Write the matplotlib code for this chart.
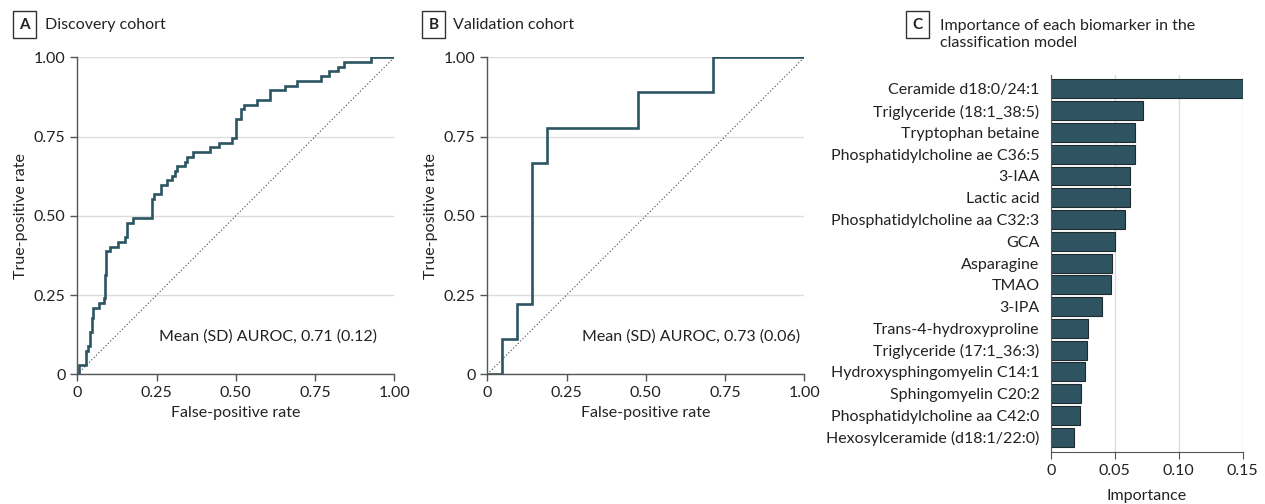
import numpy as np
import matplotlib
matplotlib.use('Agg')
import matplotlib.pyplot as plt

plt.rcParams['font.family'] = ['Lato', 'DejaVu Sans']

# ROC staircase corners (fpr where the rise happens, tpr after rise)
fpr_discovery = [0, 0.005, 0.029, 0.035, 0.040, 0.045, 0.050, 0.069, 0.083, 0.086,
                 0.089, 0.103, 0.127, 0.150, 0.156, 0.177, 0.237, 0.241, 0.264, 0.282,
                 0.298, 0.308, 0.315, 0.340, 0.347, 0.366, 0.420, 0.447, 0.489, 0.500,
                 0.515, 0.527, 0.568, 0.608, 0.655, 0.694, 0.769, 0.795, 0.823, 0.842,
                 0.925, 1.0]
tpr_discovery = [0, 0.03, 0.075, 0.089, 0.135, 0.179, 0.21, 0.224, 0.24, 0.313,
                 0.389, 0.403, 0.418, 0.434, 0.478, 0.492, 0.552, 0.568, 0.597, 0.613,
                 0.627, 0.64, 0.657, 0.671, 0.687, 0.70, 0.717, 0.731, 0.747, 0.805,
                 0.836, 0.85, 0.865, 0.896, 0.91, 0.925, 0.94, 0.956, 0.97, 0.985,
                 1.0, 1.0]

fpr_validation = [0, 0.047, 0.095, 0.142, 0.189, 0.476, 0.713, 1.0]
tpr_validation = [0, 0.111, 0.222, 0.667, 0.778, 0.889, 1.0, 1.0]

auroc_discovery = 'Mean (SD) AUROC, 0.71 (0.12)'
auroc_validation = 'Mean (SD) AUROC, 0.73 (0.06)'

biomarkers = ['Ceramide d18:0/24:1', 'Triglyceride (18:1_38:5)', 'Tryptophan betaine',
              'Phosphatidylcholine ae C36:5', '3-IAA', 'Lactic acid',
              'Phosphatidylcholine aa C32:3', 'GCA', 'Asparagine', 'TMAO', '3-IPA',
              'Trans-4-hydroxyproline', 'Triglyceride (17:1_36:3)',
              'Hydroxysphingomyelin C14:1', 'Sphingomyelin C20:2',
              'Phosphatidylcholine aa C42:0', 'Hexosylceramide (d18:1/22:0)']
importance = [0.150, 0.0719, 0.0659, 0.0656, 0.0622, 0.0617, 0.0578, 0.0503, 0.0482,
              0.0474, 0.0398, 0.0289, 0.0284, 0.0266, 0.0237, 0.0227, 0.0185]

line_col = '#2b5563'
bar_col = '#2f5461'
spine_col = '#555555'
grid_col = '#dcdcdc'
text_col = '#222222'
fs = 11.5

fig = plt.figure(figsize=(12.65, 5.04), dpi=100)


def roc_panel(rect, fpr, tpr, note, note_x):
    ax = fig.add_axes(rect)
    ax.plot([0, 1], [0, 1], ls=(0, (1, 2)), color='#444444', lw=0.8)
    ax.plot(fpr, tpr, drawstyle='steps-post', color=line_col, lw=1.9, solid_joinstyle='miter')
    ax.set_xlim(0, 1)
    ax.set_ylim(0, 1)
    ticks = [0, 0.25, 0.5, 0.75, 1.0]
    labels = ['0', '0.25', '0.50', '0.75', '1.00']
    ax.set_xticks(ticks, labels)
    ax.set_yticks(ticks, labels)
    ax.yaxis.grid(True, color=grid_col, lw=1)
    ax.set_axisbelow(True)
    for s in ['top', 'right']:
        ax.spines[s].set_visible(False)
    for s in ['left', 'bottom']:
        ax.spines[s].set_color(spine_col)
        ax.spines[s].set_linewidth(1)
    ax.tick_params(colors=spine_col, labelcolor=text_col, labelsize=fs, length=5, width=1)
    ax.set_xlabel('False-positive rate', fontsize=fs, color=text_col, labelpad=4)
    ax.set_ylabel('True-positive rate', fontsize=fs, color=text_col, labelpad=4)
    ax.text(note_x, 0.12, note, ha='right', va='center', fontsize=fs, color=text_col)
    return ax


roc_panel([0.0611, 0.2573, 0.2506, 0.6290], fpr_discovery, tpr_discovery,
          auroc_discovery, 0.944)
roc_panel([0.3852, 0.2573, 0.2506, 0.6290], fpr_validation, tpr_validation,
          auroc_validation, 0.986)

# panel C
axc = fig.add_axes([0.8306, 0.1032, 0.1518, 0.7480])
y = np.arange(len(biomarkers))
axc.barh(y, importance, height=0.87, color=bar_col, edgecolor='#1e2a30', linewidth=0.8)
axc.set_ylim(len(biomarkers) - 1 + 0.68, -0.64)
axc.set_xlim(0, 0.15)
axc.set_yticks(y, biomarkers)
axc.set_xticks([0, 0.05, 0.10, 0.15], ['0', '0.05', '0.10', '0.15'])
axc.xaxis.grid(True, color=grid_col, lw=1)
axc.set_axisbelow(True)
for s in ['top', 'right']:
    axc.spines[s].set_visible(False)
for s in ['left', 'bottom']:
    axc.spines[s].set_color(spine_col)
axc.tick_params(axis='x', colors=spine_col, labelcolor=text_col, labelsize=fs, length=5)
axc.tick_params(axis='y', length=0, pad=8, labelsize=fs, labelcolor=text_col)
axc.set_xlabel('Importance', fontsize=fs, color=text_col, labelpad=8)

# panel headers
box = dict(boxstyle='square,pad=0.42', fc='white', ec='#333333', lw=1)
fig.text(0.0194, 0.951, 'A', fontsize=fs - 0.5, fontweight='bold', color=text_col,
         ha='center', va='center', bbox=box)
fig.text(0.0356, 0.951, 'Discovery cohort', fontsize=fs, color=text_col, va='center')
fig.text(0.3430, 0.951, 'B', fontsize=fs - 0.5, fontweight='bold', color=text_col,
         ha='center', va='center', bbox=box)
fig.text(0.3580, 0.951, 'Validation cohort', fontsize=fs, color=text_col, va='center')
fig.text(0.7255, 0.951, 'C', fontsize=fs - 0.5, fontweight='bold', color=text_col,
         ha='center', va='center', bbox=box)
fig.text(0.7430, 0.962, 'Importance of each biomarker in the\nclassification model',
         fontsize=fs, color=text_col, va='top', linespacing=1.25)

fig.savefig('out.png', dpi=100)
